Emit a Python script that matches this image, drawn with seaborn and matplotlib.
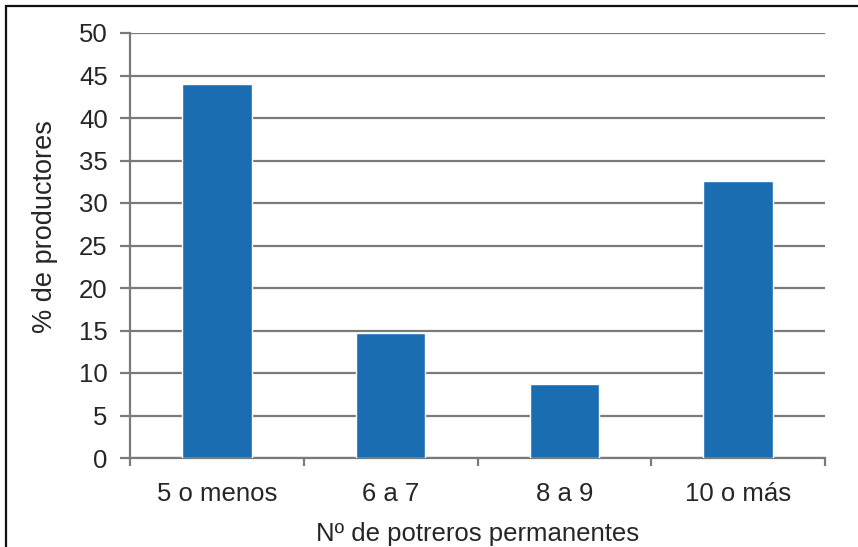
import matplotlib
matplotlib.use("Agg")
import matplotlib.pyplot as plt
import seaborn as sns
import pandas as pd
from matplotlib.patches import Rectangle
from matplotlib.ticker import FixedLocator

categories = ["5 o menos", "6 a 7", "8 a 9", "10 o más"]
values = [44.0, 14.7, 8.7, 32.6]
yticks = [0, 5, 10, 15, 20, 25, 30, 35, 40, 45, 50]

sns.set_theme(style="white")
plt.rcParams["font.family"] = ["Liberation Sans", "DejaVu Sans"]

W, H = 858, 547
fig = plt.figure(figsize=(W / 100, H / 100), dpi=100)
fig.patch.set_facecolor("white")
ax = fig.add_axes([130 / W, 1 - 458 / H, (825 - 130) / W, (458 - 33) / H])

df = pd.DataFrame({"cat": categories, "val": values})
sns.barplot(data=df, x="cat", y="val", color="#1b6db2", saturation=1,
            width=0.4, ax=ax, zorder=3)

ax.set_xlim(-0.5, 3.5)
ax.set_ylim(0, 50)
ax.set_yticks(yticks)
ax.yaxis.grid(True, color="#7a7a7a", linewidth=1.6, zorder=0)
ax.set_axisbelow(True)

for s in ["top", "right"]:
    ax.spines[s].set_visible(False)
for s in ["left", "bottom"]:
    ax.spines[s].set_color("#7a7a7a")
    ax.spines[s].set_linewidth(1.6)

fs = 18.5
ax.tick_params(axis="y", which="major", direction="out", length=7, width=1.6,
               color="#7a7a7a", left=True, labelsize=fs, labelcolor="#262626", pad=9)
ax.tick_params(axis="x", which="major", length=0, labelsize=fs,
               labelcolor="#262626", pad=17)
ax.xaxis.set_minor_locator(FixedLocator([-0.5, 0.5, 1.5, 2.5, 3.5]))
ax.tick_params(axis="x", which="minor", direction="out", length=6, width=1.6,
               color="#7a7a7a", bottom=True)

ax.set_xlabel("Nº de potreros permanentes", fontsize=fs, color="#262626", labelpad=12)
ax.set_ylabel("% de productores", fontsize=19.5, color="#262626")
ax.yaxis.set_label_coords((58 - 130) / (825 - 130), (458 - 227) / (458 - 33))

fig.patches.append(Rectangle((6 / W, -0.5), 2.0, 0.5 + (1 - 6 / H),
                             transform=fig.transFigure, fill=False,
                             edgecolor="#111111", linewidth=1.6))

fig.savefig("out.png", dpi=100)
